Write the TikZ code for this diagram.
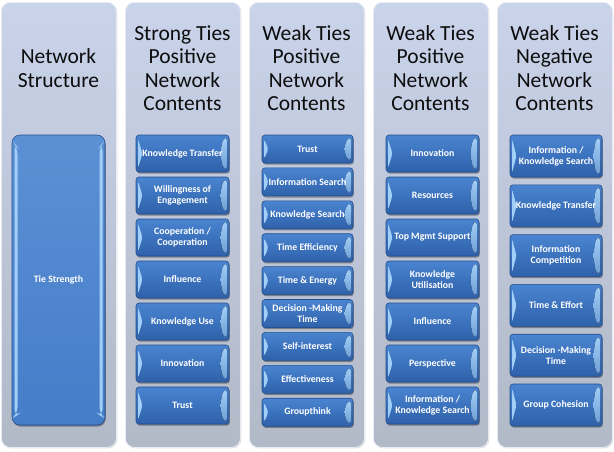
\documentclass[tikz,border=0pt]{standalone}
\usepackage{fontspec}
\setmainfont{Carlito}
\usetikzlibrary{shadows}
\definecolor{panelTop}{HTML}{C9D3EA}
\definecolor{panelBot}{HTML}{B2B9C7}
\definecolor{panelEdge}{HTML}{E6EBF4}
\definecolor{boxTop}{HTML}{4A84D0}
\definecolor{boxBot}{HTML}{2E61AA}
\definecolor{boxEdge}{HTML}{23508E}
\definecolor{glint}{HTML}{A2CFF7}
\definecolor{headText}{HTML}{0D0D0D}
\tikzset{
  panel/.style={rounded corners=9pt, top color=panelTop, bottom color=panelBot,
    draw=panelEdge, line width=0.8pt,
    general shadow={shadow xshift=1pt, shadow yshift=-1pt, fill=black, opacity=0.12}},
  head/.style={font=\fontsize{21.5}{23.5}\selectfont, align=center, text=headText},
  boxbase/.style={draw=boxEdge, line width=0.6pt,
    top color=boxTop, bottom color=boxBot, text=white,
    font=\bfseries\fontsize{9.8}{11}\selectfont, align=center, inner sep=1pt,
    general shadow={shadow xshift=0.8pt, shadow yshift=-1.6pt, fill=black, opacity=0.35}},
  tbox/.style={boxbase, rounded corners=3pt,
    path picture={
      \fill[glint] ([xshift=2pt,yshift=-4pt]path picture bounding box.north west)
        -- ([xshift=6.5pt]path picture bounding box.west)
        -- ([xshift=2pt,yshift=4pt]path picture bounding box.south west) -- cycle;
      \fill[top color=glint, bottom color=glint!55!boxBot]
        ([xshift=-2pt,yshift=-2.5pt]path picture bounding box.north east)
        -- ([xshift=-2pt,yshift=2.5pt]path picture bounding box.south east)
        -- ([xshift=-6pt,yshift=4pt]path picture bounding box.south east)
        .. controls ([xshift=-9pt]path picture bounding box.east) ..
        ([xshift=-6pt,yshift=-4pt]path picture bounding box.north east) -- cycle;
    }},
  bigbox/.style={boxbase, rounded corners=8pt, top color=boxTop!90!white, bottom color=boxTop!80!boxBot,
    path picture={
      \fill[glint] ([xshift=2.5pt,yshift=-8pt]path picture bounding box.north west)
        -- ([xshift=5.5pt,yshift=-12pt]path picture bounding box.north west)
        -- ([xshift=5.5pt,yshift=10pt]path picture bounding box.south west)
        -- ([xshift=2.5pt,yshift=8pt]path picture bounding box.south west) -- cycle;
      \fill[glint] ([xshift=-2.5pt,yshift=-8pt]path picture bounding box.north east)
        -- ([xshift=-5.5pt,yshift=-12pt]path picture bounding box.north east)
        -- ([xshift=-5.5pt,yshift=10pt]path picture bounding box.south east)
        -- ([xshift=-2.5pt,yshift=8pt]path picture bounding box.south east) -- cycle;
    }}
}
\begin{document}
\begin{tikzpicture}[x=1pt,y=-1pt]
\useasboundingbox (0,0) rectangle (614,451);
\fill[white] (0,0) rectangle (614,451);
% panels
\foreach \px [count=\i] in {1,125,249,373,497}{
  \node[panel, minimum width=115pt, minimum height=445pt, anchor=north west] (p\i) at (\px,2) {};
}
% headers
\node[head] (h1) at (58.5,68) {Network\\Structure};
\node[head] (h2) at (182.5,68) {Strong Ties\\Positive\\Network\\Contents};
\node[head] (h3) at (306.5,68) {Weak Ties\\Positive\\Network\\Contents};
\node[head] (h4) at (430.5,68) {Weak Ties\\Positive\\Network\\Contents};
\node[head] (h5) at (554.5,68) {Weak Ties\\Negative\\Network\\Contents};
% column 1
\node[bigbox, minimum width=93pt, minimum height=290pt] (b1-1) at (58.5,280) {Tie Strength};
% column 2
\foreach \t [count=\k] in {Knowledge Transfer,{Willingness of\\Engagement},{Cooperation /\\Cooperation},Influence,Knowledge Use,Innovation,Trust}{
  \pgfmathsetmacro\cy{153.5+42*(\k-1)}
  \node[tbox, minimum width=93pt, minimum height=37pt] (b2-\k) at (182.5,\cy) {\t};
}
% column 3
\foreach \t [count=\k] in {Trust,Information Search,Knowledge Search,Time Efficiency,Time \& Energy,{Decision -Making\\Time},Self-interest,Effectiveness,Groupthink}{
  \pgfmathsetmacro\cy{149+32.9*(\k-1)}
  \node[tbox, minimum width=91pt, minimum height=28pt] (b3-\k) at (307.5,\cy) {\t};
}
% column 4
\foreach \t [count=\k] in {Innovation,Resources,Top Mgmt Support,{Knowledge\\Utilisation},Influence,Perspective,{Information /\\Knowledge Search}}{
  \pgfmathsetmacro\cy{153.5+42*(\k-1)}
  \node[tbox, minimum width=93pt, minimum height=37pt] (b4-\k) at (432.5,\cy) {\t};
}
% column 5
\foreach \t [count=\k] in {{Information /\\Knowledge Search},Knowledge Transfer,{Information\\Competition},Time \& Effort,{Decision -Making\\Time},Group Cohesion}{
  \pgfmathsetmacro\cy{156+49.8*(\k-1)}
  \node[tbox, minimum width=92pt, minimum height=42pt] (b5-\k) at (556,\cy) {\t};
}
\end{tikzpicture}
\end{document}
